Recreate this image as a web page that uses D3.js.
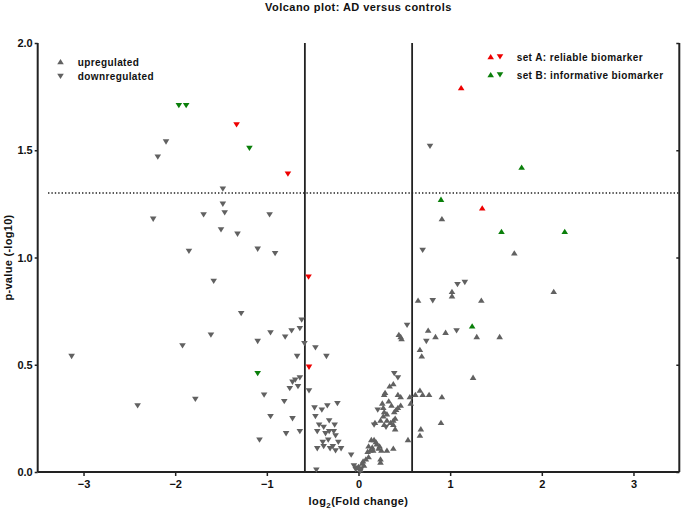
<!DOCTYPE html>
<html>
<head>
<meta charset="utf-8">
<script src="https://cdn.jsdelivr.net/npm/d3@7"></script>
<style>
  html, body { margin: 0; padding: 0; background: #fff; }
  svg { display: block; font-family: "Liberation Sans", Arial, sans-serif; }
</style>
</head>
<body>
<svg id="chart" width="681" height="509"></svg>
<script>
// ---------------- data ----------------
const chartTitle = "Volcano plot: AD versus controls";
const xTicks = [-3, -2, -1, 0, 1, 2, 3];
const yTicks = [0, 0.5, 1, 1.5, 2];
const yTickLabels = ["0.0", "0.5", "1.0", "1.5", "2.0"];
const fcCut = 0.585;     // log2(1.5)
const pCut = 1.301;      // -log10(0.05)

// [log2 fold change, -log10 p]
const downGrey = [
  [-2.10, 1.54], [-2.19, 1.47], [-1.48, 1.32], [-1.48, 1.25], [-1.69, 1.20], [-1.46, 1.21],
  [-0.97, 1.20], [-2.24, 1.18], [-1.50, 1.13], [-1.32, 1.11], [-1.10, 1.04], [-1.85, 1.03],
  [-0.91, 1.02], [-1.58, 0.89], [-1.28, 0.74], [-0.62, 0.71], [-0.73, 0.66], [-0.64, 0.67],
  [-0.96, 0.65], [-0.80, 0.63], [-1.61, 0.64], [-1.10, 0.61], [-1.92, 0.59], [-0.59, 0.60],
  [-0.47, 0.58], [-0.35, 0.54], [-0.67, 0.54], [-3.13, 0.54], [-2.41, 0.31], [-1.78, 0.34],
  [-0.64, 0.44], [-0.69, 0.43], [-0.72, 0.42], [-0.75, 0.39], [-0.66, 0.40], [-0.54, 0.38],
  [-1.03, 0.36], [-0.81, 0.33], [-0.96, 0.26], [-0.72, 0.25], [-0.79, 0.18], [-0.64, 0.19],
  [-1.08, 0.15], [-0.46, 0.01],
  [-0.48, 0.30], [-0.40, 0.29], [-0.34, 0.31], [-0.23, 0.32], [-0.47, 0.26], [-0.43, 0.22],
  [-0.38, 0.21], [-0.32, 0.24], [-0.26, 0.22], [-0.45, 0.19], [-0.36, 0.18], [-0.32, 0.19],
  [-0.27, 0.19], [-0.25, 0.17], [-0.39, 0.14], [-0.38, 0.12], [-0.33, 0.15], [-0.28, 0.12],
  [-0.22, 0.14], [-0.45, 0.11], [-0.31, 0.11], [-0.25, 0.10], [-0.19, 0.11], [-0.08, 0.08],
  [-0.03, 0.013], [-0.01, 0.02], [0.02, 0.005], [-0.05, 0.03], [0.03, 0.015],
  [0.78, 1.52], [0.70, 1.035], [1.08, 0.875], [1.16, 0.885], [0.81, 0.80], [0.53, 0.685],
  [1.07, 0.66], [0.74, 0.61], [0.39, 0.46], [0.43, 0.44], [0.17, 0.22], [0.21, 0.29],
  [0.30, 0.21]
];
const upGrey = [
  [0.91, 1.18], [1.70, 1.02], [1.02, 0.84], [1.02, 0.82], [2.13, 0.84], [0.65, 0.80],
  [1.34, 0.80], [0.46, 0.63], [0.47, 0.62], [0.44, 0.64], [0.76, 0.66], [0.95, 0.65],
  [0.84, 0.63], [1.29, 0.63], [1.54, 0.63], [0.67, 0.57], [0.69, 0.54], [1.25, 0.44],
  [0.38, 0.41], [0.34, 0.40], [0.29, 0.37], [0.28, 0.36], [0.43, 0.36], [0.46, 0.35],
  [0.67, 0.38], [0.62, 0.36], [0.56, 0.35], [0.70, 0.36], [0.77, 0.36], [0.91, 0.35],
  [0.57, 0.32], [0.26, 0.32], [0.27, 0.30], [0.46, 0.31], [0.43, 0.30], [0.90, 0.23],
  [0.68, 0.20], [0.67, 0.17], [0.54, 0.15], [0.38, 0.11], [0.31, 0.10], [0.24, 0.06],
  [0.24, 0.045], [0.38, 0.24], [0.38, 0.22], [0.40, 0.20], [0.27, 0.26], [0.31, 0.24],
  [0.35, 0.23], [0.24, 0.24], [0.18, 0.23], [0.17, 0.15], [0.20, 0.13], [0.23, 0.12],
  [0.25, 0.10], [0.13, 0.10], [0.15, 0.115], [0.11, 0.07], [0.08, 0.06], [0.05, 0.05],
  [0.04, 0.04], [0.10, 0.095], [0.02, 0.01], [0.00, 0.025], [0.14, 0.15], [0.11, 0.12],
  [0.16, 0.10], [0.22, 0.11], [0.28, 0.28], [0.31, 0.27], [0.41, 0.29],
  [0.33, 0.33], [0.36, 0.31], [0.40, 0.25], [0.28, 0.22], [0.39, 0.28], [0.06, 0.03],
  [0.19, 0.14]
];
const setAUp = [[1.12, 1.79], [1.35, 1.23]];
const setADown = [[-1.33, 1.62], [-0.77, 1.39], [-0.545, 0.91], [-0.54, 0.49]];
const setBUp = [[1.78, 1.42], [0.90, 1.27], [1.56, 1.12], [2.25, 1.12], [1.24, 0.68]];
const setBDown = [[-1.96, 1.71], [-1.88, 1.71], [-1.19, 1.51], [-1.10, 0.46]];

const legendLeft = [["up", "upregulated"], ["down", "downregulated"]];
const legendRight = ["set A: reliable biomarker", "set B: informative biomarker"];

// ---------------- drawing ----------------
const grey = "#616161", red = "#ee0000", green = "#0a7f0a", ink = "#222";
const svg = d3.select("#chart");
const x = d3.scaleLinear().domain([-3.5, 3.5]).range([37.7, 679.3]);
const y = d3.scaleLinear().domain([0, 2]).range([472, 43]);

const upPath = "M0,-3L3.3,2.3L-3.3,2.3Z";
const downPath = "M0,3L3.3,-2.3L-3.3,-2.3Z";

// threshold lines
svg.append("line").attr("x1", 48).attr("x2", x(3.5)).attr("y1", y(pCut)).attr("y2", y(pCut))
  .attr("stroke", ink).attr("stroke-width", 1.5).attr("stroke-dasharray", "1.4,2");
[-fcCut, fcCut].forEach(v => {
  svg.append("line").attr("x1", x(v)).attr("x2", x(v)).attr("y1", y(2)).attr("y2", y(0))
    .attr("stroke", ink).attr("stroke-width", 1.8);
});

// axes
const gx = svg.append("g").attr("transform", `translate(0,${y(0)})`)
  .call(d3.axisBottom(x).tickValues(xTicks).tickSize(4).tickPadding(4).tickFormat(d3.format("d")));
const gy = svg.append("g").attr("transform", `translate(${x(-3.5)},0)`)
  .call(d3.axisLeft(y).tickValues(yTicks).tickSize(3).tickPadding(2).tickFormat((d, i) => yTickLabels[i]));
const gr = svg.append("g").attr("transform", `translate(${x(3.5)},0)`)
  .call(d3.axisLeft(y).tickValues(yTicks).tickSize(-0).tickFormat(""));
gr.selectAll(".tick line").attr("x2", -3);
[gx, gy, gr].forEach(g => {
  g.select(".domain").attr("stroke", ink).attr("stroke-width", 2);
  g.selectAll(".tick line").attr("stroke", ink).attr("stroke-width", 1.5);
  g.selectAll(".tick text").attr("fill", "#111").attr("font-size", 11).attr("font-weight", "bold")
    .attr("font-family", "Liberation Sans, Arial, sans-serif");
});
gx.select(".domain").attr("d", `M${x(-3.5)},0H${x(3.5)}`);
gy.select(".domain").attr("d", `M0,${y(2)}V${y(0)}`);
gr.select(".domain").attr("d", `M0,${y(2)}V${y(0)}`);

// points
function plot(data, path, color) {
  svg.append("g").selectAll("path").data(data).join("path")
    .attr("d", path).attr("fill", color)
    .attr("transform", d => `translate(${x(d[0])},${y(d[1])})`);
}
plot(downGrey, downPath, grey);
plot(upGrey, upPath, grey);
plot(setADown, downPath, red);
plot(setAUp, upPath, red);
plot(setBDown, downPath, green);
plot(setBUp, upPath, green);

// title
svg.append("text").attr("x", x(0)).attr("y", 11).attr("text-anchor", "middle")
  .attr("font-size", 11).attr("font-weight", "bold").attr("letter-spacing", 0.45).attr("fill", "#111")
  .text(chartTitle);

// axis titles
const xt = svg.append("text").attr("x", x(0)).attr("y", 505).attr("text-anchor", "middle")
  .attr("font-size", 11).attr("font-weight", "bold").attr("letter-spacing", 0.4).attr("fill", "#111");
xt.append("tspan").text("log");
xt.append("tspan").attr("font-size", 8).attr("dy", 3).text("2");
xt.append("tspan").attr("dy", -3).text("(Fold change)");

svg.append("text").attr("transform", `translate(12,${y(1)}) rotate(-90)`).attr("text-anchor", "middle")
  .attr("font-size", 11).attr("font-weight", "bold").attr("letter-spacing", 0.3).attr("fill", "#111")
  .text("p-value (-log10)");

// left legend
const ll = svg.append("g");
legendLeft.forEach((d, i) => {
  const yy = 62 + i * 14;
  ll.append("path").attr("d", d[0] === "up" ? upPath : downPath).attr("fill", grey)
    .attr("transform", `translate(60.5,${yy})`);
  ll.append("text").attr("x", 77.7).attr("y", yy + 3.6).attr("font-size", 10).attr("font-weight", "bold")
    .attr("letter-spacing", 0.4).attr("fill", "#111").text(d[1]);
});

// right legend
const rl = svg.append("g");
[[red, legendRight[0]], [green, legendRight[1]]].forEach((d, i) => {
  const yy = 57 + i * 18;
  rl.append("path").attr("d", upPath).attr("fill", d[0]).attr("transform", `translate(490.7,${yy})`);
  rl.append("path").attr("d", downPath).attr("fill", d[0]).attr("transform", `translate(500,${yy - 0.5})`);
  rl.append("text").attr("x", 516.7).attr("y", yy + 3.6).attr("font-size", 10).attr("font-weight", "bold")
    .attr("letter-spacing", 0.4).attr("fill", "#111").text(d[1]);
});
</script>
</body>
</html>
